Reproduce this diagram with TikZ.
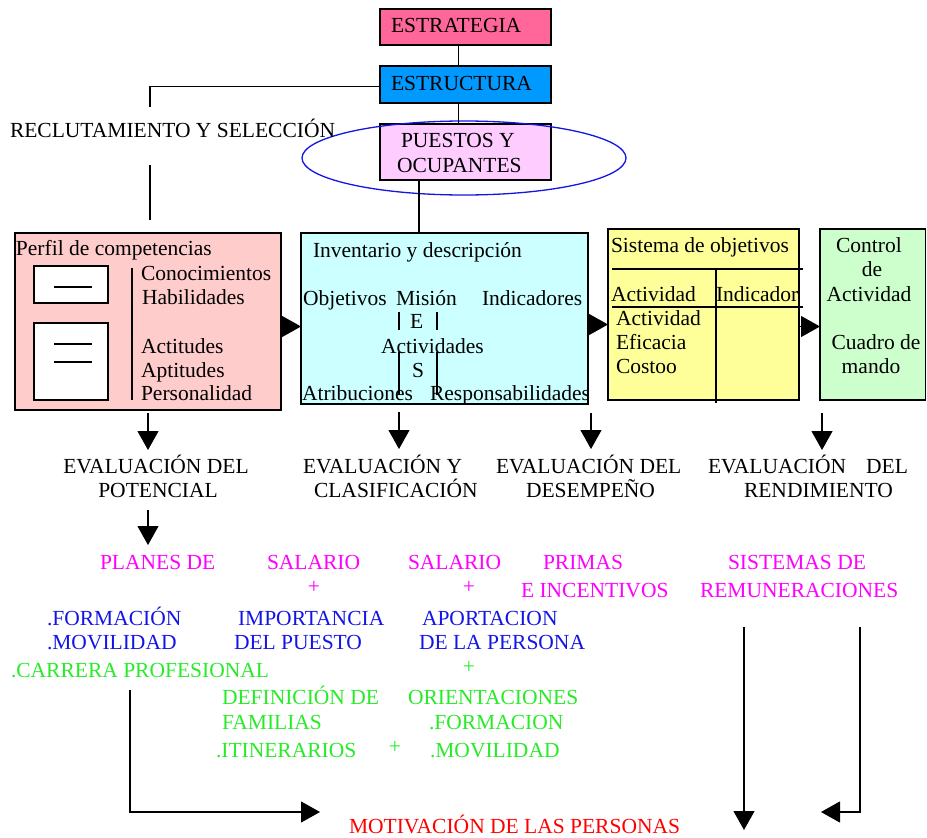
\documentclass[tikz,border=0pt]{standalone}
\usepackage{fontspec}
\setmainfont{Liberation Serif}
\usetikzlibrary{arrows.meta,calc,shapes.geometric}
\definecolor{cEstrategia}{RGB}{255,102,153}
\definecolor{cEstructura}{RGB}{0,153,255}
\definecolor{cPuestos}{RGB}{255,204,255}
\definecolor{cPerfil}{RGB}{255,204,204}
\definecolor{cInvent}{RGB}{204,255,255}
\definecolor{cSistema}{RGB}{255,255,153}
\definecolor{cControl}{RGB}{204,255,204}
\definecolor{tMag}{RGB}{255,0,255}
\definecolor{tBlue}{RGB}{20,20,230}
\definecolor{tGreen}{RGB}{40,235,40}
\definecolor{tRed}{RGB}{255,0,0}
\definecolor{cRing}{RGB}{20,20,230}
\begin{document}
\begin{tikzpicture}[x=1pt,y=-1pt,
  font=\fontsize{21.5}{24}\selectfont,
  box/.style={draw=black,line width=1.1pt,inner sep=0pt,outer sep=0pt,anchor=north west},
  lbl/.style={inner sep=0pt,outer sep=0pt,anchor=base west},
  clbl/.style={inner sep=0pt,outer sep=0pt,anchor=base},
  link/.style={line width=1.1pt},
  arr/.style={line width=1.1pt,-{Triangle[width=21pt,length=19pt]}},
  mag/.style={text=tMag},
  blu/.style={text=tBlue},
  grn/.style={text=tGreen},
]
\useasboundingbox (0,0) rectangle (927,838);

% --- top chain
\node[box,fill=cEstrategia,minimum width=171pt,minimum height=36pt] (estrategia) at (380,9) {};
\node[lbl] (estrategiaT) at (391,32) {ESTRATEGIA};
\node[box,fill=cEstructura,minimum width=171pt,minimum height=37pt] (estructura) at (380,66) {};
\node[lbl] (estructuraT) at (391,90) {ESTRUCTURA};
\node[box,fill=cPuestos,minimum width=171pt,minimum height=56pt] (puestos) at (380,124) {};
\node[lbl] (puestosT1) at (401,147) {PUESTOS Y};
\node[lbl] (puestosT2) at (397,172) {OCUPANTES};
\node[draw=cRing,line width=1.3pt,ellipse,inner sep=0pt,minimum width=324pt,minimum height=74pt] (ring) at (464,158) {};

\draw[link] ([xshift=-7pt]estrategia.south) -- ([xshift=-7pt]estructura.north);
\draw[link] ([xshift=-7pt]estructura.south) -- ([xshift=-7pt]puestos.north);

\node[lbl] (reclut) at (10,137) {RECLUTAMIENTO Y SELECCIÓN};
\coordinate (reclutTop) at (150,107);
\coordinate (reclutLow) at (150,220);
\draw[link] ([yshift=-2pt]estructura.west) -| (reclutTop);
\draw[link] (reclutLow |- reclut.south) ++(0,28) -- (reclutLow);

% --- perfil de competencias
\node[box,fill=cPerfil,minimum width=266pt,minimum height=177pt] (perfil) at (15,233) {};
\node[lbl] (perfilT) at (16,255) {Perfil de competencias};
\node[box,fill=white,minimum width=74pt,minimum height=37pt] (perfR1) at (34,266) {};
\node[box,fill=white,minimum width=74pt,minimum height=77pt] (perfR2) at (34,323) {};
\draw[link] (54,287) -- (92,287);
\draw[link] (54,344) -- (92,344);
\draw[link] (54,362) -- (92,362);
\draw[link] (132,268) -- (132,400);
\node[lbl] (conoc) at (141,280) {Conocimientos};
\node[lbl] (habil) at (142,304) {Habilidades};
\node[lbl] (actit) at (141,353) {Actitudes};
\node[lbl] (aptit) at (141,377) {Aptitudes};
\node[lbl] (person) at (141,400) {Personalidad};

% --- inventario y descripcion
\node[box,fill=cInvent,minimum width=287pt,minimum height=171pt] (inventario) at (301,233) {};
\node[lbl] (invT) at (313,257) {Inventario y descripción};
\node[lbl] (objet) at (303,305) {Objetivos};
\node[lbl] (mision) at (396,305) {Misión};
\node[lbl] (indic) at (482,305) {Indicadores};
\node[lbl] (letE) at (410,328) {E};
\node[lbl] (activ) at (381,353) {Actividades};
\node[lbl] (letS) at (412,377) {S};
\node[lbl] (atrib) at (302,400) {Atribuciones};
\node[lbl] (respo) at (430,400) {Responsabilidades};
\draw[link] (399,312) -- (399,330);
\draw[link] (437,312) -- (437,330);
\draw[link] (399,352) -- (399,395);
\draw[link] (437,352) -- (437,395);

% --- sistema de objetivos
\node[box,fill=cSistema,minimum width=191pt,minimum height=171pt] (sistema) at (608,229) {};
\node[lbl] (sisT) at (611,252) {Sistema de objetivos};
\draw[link] (612,269) -- (803,269);
\draw[link] (612,307) -- (803,307);
\draw[link] (716,269) -- (716,403);
\node[lbl] (sisAct) at (611,301) {Actividad};
\node[lbl] (sisInd) at (716,301) {Indicador};
\node[lbl] (sisAct2) at (616,325) {Actividad};
\node[lbl] (sisEfi) at (616,349) {Eficacia};
\node[lbl] (sisCos) at (616,373) {Costoo};

% --- control
\node[box,fill=cControl,minimum width=105.5pt,minimum height=171pt] (control) at (820,229) {};
\node[clbl] (ctl1) at (869,252) {Control};
\node[clbl] (ctl2) at (872,276) {de};
\node[clbl] (ctl3) at (869,301) {Actividad};
\node[clbl] (ctl4) at (876,349) {Cuadro de};
\node[clbl] (ctl5) at (871,373) {mando};

% --- links between the boxes
\draw[link] ([xshift=-46.5pt]puestos.south) -- ([xshift=-46.5pt]puestos.south |- inventario.north);
\draw[arr] ([yshift=-5pt]perfil.east) -- ([yshift=-5pt]perfil.east -| inventario.west);
\draw[arr] ([yshift=-6pt]inventario.east) -- ([yshift=-6pt]inventario.east -| sistema.west);
\draw[arr] ([yshift=-12pt]sistema.east) -- ([yshift=-12pt]sistema.east -| control.west);

% --- evaluations
\coordinate (tipA) at (148,450);
\coordinate (tipB) at (399,449);
\coordinate (tipC) at (591,449);
\coordinate (tipD) at (822,450);
\draw[arr,shorten <=3pt] (tipA |- perfil.south) -- (tipA);
\draw[arr,shorten <=8pt] (tipB |- inventario.south) -- (tipB);
\draw[arr,shorten <=13pt] (tipC |- sistema.south) -- (tipC);
\draw[arr,shorten <=13pt] (tipD |- control.south) -- (tipD);

\node[clbl] (evA1) at (156,473) {EVALUACIÓN DEL};
\node[clbl] (evA2) at (158,497) {POTENCIAL};
\node[lbl] (evB1) at (303,473) {EVALUACIÓN Y};
\node[lbl] (evB2) at (314,497) {CLASIFICACIÓN};
\node[lbl] (evC1) at (496,473) {EVALUACIÓN DEL};
\node[lbl] (evC2) at (526,497) {DESEMPEÑO};
\node[lbl] (evD1) at (708,473) {EVALUACIÓN\hspace{20pt}DEL};
\node[lbl] (evD2) at (744,497) {RENDIMIENTO};

\coordinate (tipE) at (148,545);
\draw[arr,shorten <=13pt] (tipE |- evA2.south) -- (tipE);

% --- policies
\node[lbl,mag] (planes) at (100,569) {PLANES DE};
\node[lbl,mag] (sal1) at (267,569) {SALARIO};
\node[lbl,mag] (sal2) at (408,569) {SALARIO};
\node[lbl,mag] (primas) at (543,569) {PRIMAS};
\node[lbl,mag] (sistRem) at (728,569) {SISTEMAS DE};
\node[clbl,mag] (plus1) at (314,593) {+};
\node[clbl,mag] (plus2) at (469,593) {+};
\node[lbl,mag] (incent) at (521,597) {E INCENTIVOS};
\node[lbl,mag] (remun) at (700,597) {REMUNERACIONES};

\node[lbl,blu] (form) at (47,625) {.FORMACIÓN};
\node[lbl,blu] (movil) at (47,649) {.MOVILIDAD};
\node[lbl,blu] (impor) at (238,625) {IMPORTANCIA};
\node[lbl,blu] (delp) at (234,649) {DEL PUESTO};
\node[lbl,blu] (aport) at (422,625) {APORTACION};
\node[lbl,blu] (delap) at (419,649) {DE LA PERSONA};

\node[lbl,grn] (carrera) at (11,677) {.CARRERA PROFESIONAL};
\node[clbl,grn] (plus3) at (469,673) {+};
\node[lbl,grn] (defin) at (222,704) {DEFINICIÓN DE};
\node[lbl,grn] (orient) at (408,704) {ORIENTACIONES};
\node[lbl,grn] (famil) at (222,729) {FAMILIAS};
\node[lbl,grn] (formG) at (429,729) {.FORMACION};
\node[lbl,grn] (itin) at (216,757) {.ITINERARIOS};
\node[clbl,grn] (plus4) at (395,753) {+};
\node[lbl,grn] (movG) at (430,757) {.MOVILIDAD};

\node[lbl,text=tRed] (motiv) at (349,833) {MOTIVACIÓN DE LAS PERSONAS};

% --- arrows into motivation
\coordinate (cpBend) at (130,812);
\coordinate (motivTip) at (320,812);
\draw[arr,shorten <=13pt] (cpBend |- carrera.south) -- (cpBend) -- (motivTip);
\coordinate (remTipA) at (744,830);
\coordinate (remBend) at (860,812);
\coordinate (remTipB) at (821,812);
\draw[arr,shorten <=30pt] (remTipA |- remun.south) -- (remTipA);
\draw[arr,shorten <=30pt] (remBend |- remun.south) -- (remBend) -- (remTipB);
\end{tikzpicture}
\end{document}
